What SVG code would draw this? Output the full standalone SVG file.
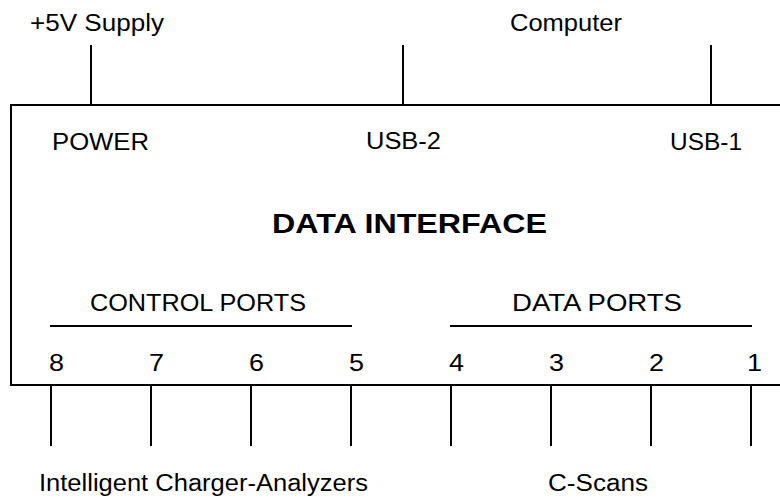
<svg xmlns="http://www.w3.org/2000/svg" width="780" height="498" viewBox="0 0 780 498">
  <style>
    .t { font-family: "Liberation Sans", Arial, sans-serif; font-size: 23.5px; fill: #000; }
    .b { font-family: "Liberation Sans", Arial, sans-serif; font-size: 27px; font-weight: bold; fill: #000; }
    .ln { stroke: #000; stroke-width: 2; fill: none; }
  </style>
  <rect width="780" height="498" fill="#fff"/>
  <g id="supply">
    <text class="t" x="30" y="31" textLength="134" lengthAdjust="spacingAndGlyphs">+5V Supply</text>
  </g>
  <g id="computer">
    <text class="t" x="510" y="31" textLength="112" lengthAdjust="spacingAndGlyphs">Computer</text>
  </g>
  <g id="data-interface">
    <rect class="ln" x="11" y="105" width="790" height="280"/>
    <text class="t" x="52" y="150" textLength="97" lengthAdjust="spacingAndGlyphs">POWER</text>
    <text class="t" x="366" y="149" textLength="75" lengthAdjust="spacingAndGlyphs">USB-2</text>
    <text class="t" x="670" y="150" textLength="72" lengthAdjust="spacingAndGlyphs">USB-1</text>
    <text class="b" x="272" y="233" textLength="275" lengthAdjust="spacingAndGlyphs">DATA INTERFACE</text>
    <text class="t" x="90" y="311" textLength="216" lengthAdjust="spacingAndGlyphs">CONTROL PORTS</text>
    <text class="t" x="512" y="311" textLength="170" lengthAdjust="spacingAndGlyphs">DATA PORTS</text>
    <line class="ln" x1="50" y1="326" x2="352" y2="326"/>
    <line class="ln" x1="450" y1="326" x2="752" y2="326"/>
    <text class="t" x="49" y="371" textLength="15" lengthAdjust="spacingAndGlyphs">8</text>
    <text class="t" x="149" y="371" textLength="15" lengthAdjust="spacingAndGlyphs">7</text>
    <text class="t" x="249" y="371" textLength="15" lengthAdjust="spacingAndGlyphs">6</text>
    <text class="t" x="349" y="371" textLength="15" lengthAdjust="spacingAndGlyphs">5</text>
    <text class="t" x="449" y="371" textLength="15" lengthAdjust="spacingAndGlyphs">4</text>
    <text class="t" x="549" y="371" textLength="15" lengthAdjust="spacingAndGlyphs">3</text>
    <text class="t" x="649" y="371" textLength="15" lengthAdjust="spacingAndGlyphs">2</text>
    <text class="t" x="747" y="371" textLength="15" lengthAdjust="spacingAndGlyphs">1</text>
  </g>
  <g id="charger-analyzers">
    <text class="t" x="39" y="491" textLength="329" lengthAdjust="spacingAndGlyphs">Intelligent Charger-Analyzers</text>
  </g>
  <g id="c-scans">
    <text class="t" x="548" y="491" textLength="100" lengthAdjust="spacingAndGlyphs">C-Scans</text>
  </g>
  <g id="connectors">
    <line class="ln" x1="91" y1="45" x2="91" y2="105"/>
    <line class="ln" x1="403" y1="45" x2="403" y2="105"/>
    <line class="ln" x1="711" y1="45" x2="711" y2="105"/>
    <line class="ln" x1="51" y1="385" x2="51" y2="446"/>
    <line class="ln" x1="151" y1="385" x2="151" y2="446"/>
    <line class="ln" x1="251" y1="385" x2="251" y2="446"/>
    <line class="ln" x1="351" y1="385" x2="351" y2="446"/>
    <line class="ln" x1="451" y1="385" x2="451" y2="446"/>
    <line class="ln" x1="551" y1="385" x2="551" y2="446"/>
    <line class="ln" x1="651" y1="385" x2="651" y2="446"/>
    <line class="ln" x1="751" y1="385" x2="751" y2="446"/>
  </g>
</svg>
